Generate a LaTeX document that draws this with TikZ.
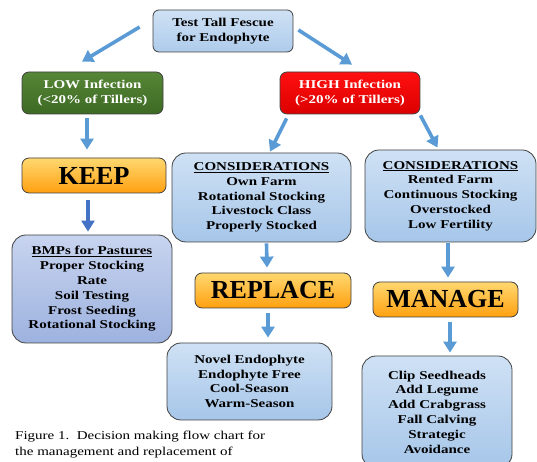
\documentclass[tikz,border=0pt]{standalone}
\usepackage{fontspec}
\setmainfont{Liberation Serif}[FakeStretch=1.25]
\newfontfamily\bigfont{Liberation Serif}
\usepackage{tikz}
\usetikzlibrary{arrows.meta}
\definecolor{arrblue}{HTML}{5B9BD5}
\definecolor{arrdark}{HTML}{4472C4}
\definecolor{bltop}{HTML}{CFE1F4}
\definecolor{blmid}{HTML}{DDEAF7}
\definecolor{blbot}{HTML}{A6C6E9}
\definecolor{lvtop}{HTML}{C8D4EF}
\definecolor{lvmid}{HTML}{BFCCEB}
\definecolor{lvbot}{HTML}{9DB2DF}
\definecolor{ortop}{HTML}{FFD870}
\definecolor{orbot}{HTML}{FFA010}
\definecolor{grtop}{HTML}{568636}
\definecolor{grbot}{HTML}{3D6A24}
\definecolor{rdtop}{HTML}{FF1010}
\definecolor{rdbot}{HTML}{DC0000}

\begin{document}
\begin{tikzpicture}[x=1pt,y=1pt,
		box/.style={draw=black!75,line width=0.8pt,rounded corners=7pt,align=center,inner sep=0pt,
			font=\fontsize{12}{14.8}\selectfont\bfseries},
		blue/.style={box,top color=bltop,middle color=blmid,bottom color=blbot,rounded corners=14pt},
		lav/.style={box,top color=lvtop,middle color=lvmid,bottom color=lvbot,rounded corners=14pt},
		hdr/.style={box,top color=ortop,bottom color=orbot,
			font=\fontsize{26}{28}\bigfont\bfseries},
		arr/.style={draw=arrblue,line width=3.6pt,-{Triangle[width=13pt,length=11pt]}}]
		\useasboundingbox (0,0) rectangle (537,462);
		% nodes
		\node[box,top color=bltop,bottom color=blbot!80!bltop,rounded corners=6pt,
			minimum width=140pt,minimum height=42pt] (test) at (223,431) {Test Tall Fescue\\for Endophyte};
		\node[box,text=white,top color=grtop,bottom color=grbot,
			minimum width=141pt,minimum height=42pt] (low) at (92.5,369) {LOW Infection\\(<20\% of Tillers)};
		\node[box,text=white,top color=rdtop,bottom color=rdbot,
			minimum width=140pt,minimum height=42pt] (high) at (350,369) {HIGH Infection\\(>20\% of Tillers)};
		\node[hdr,minimum width=144pt,minimum height=35pt] (keep) at (94,286.5) {KEEP};
		\node[lav,minimum width=160pt,minimum height=108pt] (bmp) at (92,173)
			{\underline{BMPs for Pastures}\\Proper Stocking\\Rate\\Soil Testing\\Frost Seeding\\Rotational Stocking};
		\node[blue,minimum width=179pt,minimum height=89pt] (consl) at (261.5,264.5)
			{\underline{CONSIDERATIONS}\\Own Farm\\Rotational Stocking\\Livestock Class\\Properly Stocked};
		\node[blue,minimum width=171pt,minimum height=92pt] (consr) at (450.5,266)
			{\underline{CONSIDERATIONS}\\Rented Farm\\Continuous Stocking\\Overstocked\\Low Fertility};
		\node[hdr,minimum width=156pt,minimum height=35pt] (replace) at (273,171.5) {REPLACE};
		\node[hdr,minimum width=145pt,minimum height=35pt] (manage) at (445.5,162.5) {MANAGE};
		\node[blue,minimum width=165pt,minimum height=77pt] (novel) at (249.5,80.5)
			{Novel Endophyte\\Endophyte Free\\Cool-Season\\Warm-Season};
		\node[blue,minimum width=150pt,minimum height=112pt] (clip) at (437,50)
			{Clip Seedheads\\Add Legume\\Add Crabgrass\\Fall Calving\\Strategic\\Avoidance};
		\node[anchor=north west,align=left,inner sep=0pt,font=\fontsize{12}{15.5}\selectfont] (cap) at (15,31)
			{Figure 1.\ \ Decision making flow chart for\\the management and replacement of};
		% arrows
		\path[every edge/.style=arr]
		([xshift=-13,yshift=4]test.west) edge ([xshift=-10.5,yshift=10]low.north)
		([xshift=5,yshift=1]test.east) edge ([xshift=2,yshift=7]high.north)
		([xshift=-5.5,yshift=-4]low.south) edge ([xshift=-7,yshift=8]keep.north)
		([xshift=7,yshift=-4]high.south west) edge ([xshift=8.5,yshift=1]consl.north)
		([yshift=-1]high.south east) edge ([xshift=-13,yshift=2]consr.north)
		([xshift=5,yshift=-1]consl.south) edge ([xshift=-6,yshift=5]replace.north)
		([xshift=-5,yshift=-5]replace.south) edge ([xshift=18.5,yshift=5]novel.north)
		([xshift=-2.5,yshift=-1]consr.south) edge ([xshift=2.5,yshift=4]manage.north)
		([xshift=4.5,yshift=-5]manage.south) edge ([xshift=13,yshift=3]clip.north)
		([xshift=-6,yshift=-7]keep.south) edge[draw=arrdark] ([xshift=-4,yshift=3]bmp.north);
		\end{tikzpicture}
\end{document}
